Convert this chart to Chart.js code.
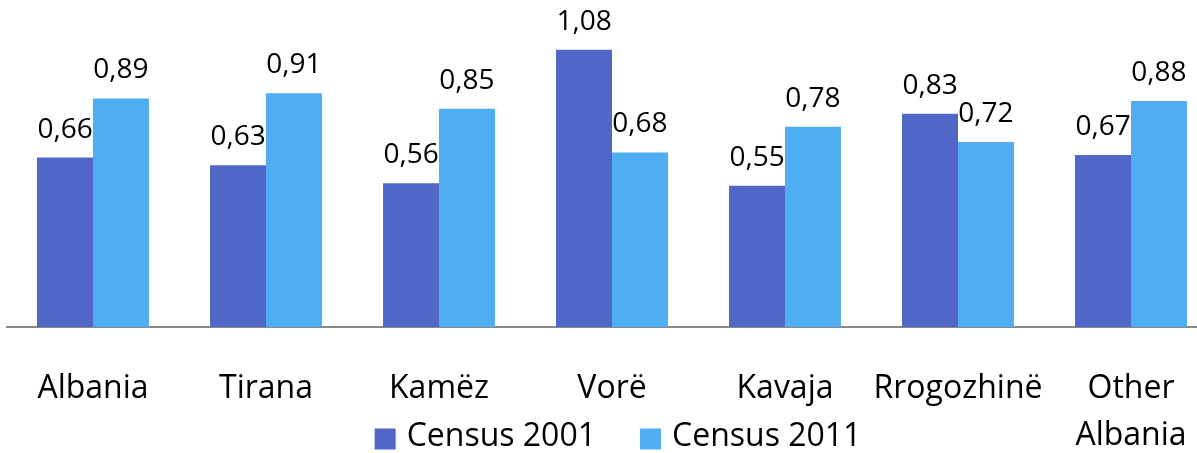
<!DOCTYPE html>
<html>
<head>
<meta charset="utf-8">
<script src="https://cdn.jsdelivr.net/npm/chart.js@4"></script>
<style>
  html, body { margin: 0; padding: 0; background: #fff; overflow: hidden; }
</style>
</head>
<body>
<canvas id="censusChart" width="1220" height="453"></canvas>
<script>
const labels = ["Albania", "Tirana", "Kamëz", "Vorë", "Kavaja", "Rrogozhinë", ["Other", "Albania"]];
const census2001 = [0.66, 0.63, 0.56, 1.08, 0.55, 0.83, 0.67];
const census2011 = [0.89, 0.91, 0.85, 0.68, 0.78, 0.72, 0.88];

const FONT = "'Open Sans', 'DejaVu Sans', sans-serif";

// value labels above each bar, with comma decimals
const valueLabels = {
  id: "valueLabels",
  afterDatasetsDraw(chart) {
    const ctx = chart.ctx;
    ctx.save();
    ctx.font = "28px " + FONT;
    ctx.fillStyle = "#000";
    ctx.textAlign = "center";
    ctx.textBaseline = "alphabetic";
    chart.data.datasets.forEach((ds, i) => {
      chart.getDatasetMeta(i).data.forEach((bar, j) => {
        const txt = ds.data[j].toFixed(2).replace(".", ",");
        ctx.fillText(txt, bar.x, bar.y - 20);
      });
    });
    ctx.restore();
  },
};

// legend drawn in the row shared with the second line of "Other Albania"
const bottomLegend = {
  id: "bottomLegend",
  afterDraw(chart) {
    const ctx = chart.ctx;
    const box = 21, gap = 11, between = 44, cy = 439;
    ctx.save();
    ctx.font = "32px " + FONT;
    ctx.textBaseline = "middle";
    ctx.textAlign = "left";
    const items = chart.data.datasets.map((ds) => ({
      text: ds.label,
      color: ds.backgroundColor,
      w: ctx.measureText(ds.label).width,
    }));
    let total = 0;
    items.forEach((it, i) => {
      total += box + gap + it.w + (i > 0 ? between : 0);
    });
    const area = chart.chartArea;
    let x = (area.left + area.right) / 2 - total / 2 + 6;
    items.forEach((it) => {
      ctx.fillStyle = it.color;
      ctx.fillRect(x, cy - box / 2, box, box);
      ctx.fillStyle = "#000";
      ctx.fillText(it.text, x + box + gap, cy - 2);
      x += box + gap + it.w + between;
    });
    ctx.restore();
  },
};

const data = {
  labels: labels,
  datasets: [
    {
      label: "Census 2001",
      data: census2001,
      backgroundColor: "#5067C8",
    },
    {
      label: "Census 2011",
      data: census2011,
      backgroundColor: "#4FADF2",
    },
  ],
};

const config = {
  type: "bar",
  data: data,
  options: {
    responsive: false,
    animation: false,
    categoryPercentage: 0.647,
    barPercentage: 1,
    layout: { padding: { top: 6, left: 6.5, right: 2.5, bottom: 0 } },
    plugins: {
      tooltip: { enabled: false },
      legend: { display: false },
    },
    scales: {
      x: {
        grid: { display: false },
        border: { display: true, color: "#898989", width: 2 },
        ticks: {
          color: "#000",
          font: { family: FONT, size: 32, lineHeight: 1.47 },
          padding: 30,
          maxRotation: 0,
          autoSkip: false,
        },
        afterFit(scale) {
          scale.height = 126;
        },
      },
      y: {
        display: false,
        min: 0,
        max: 1.25,
      },
    },
  },
  plugins: [valueLabels, bottomLegend],
};

const censusChart = new Chart(document.getElementById("censusChart"), config);
</script>
</body>
</html>
